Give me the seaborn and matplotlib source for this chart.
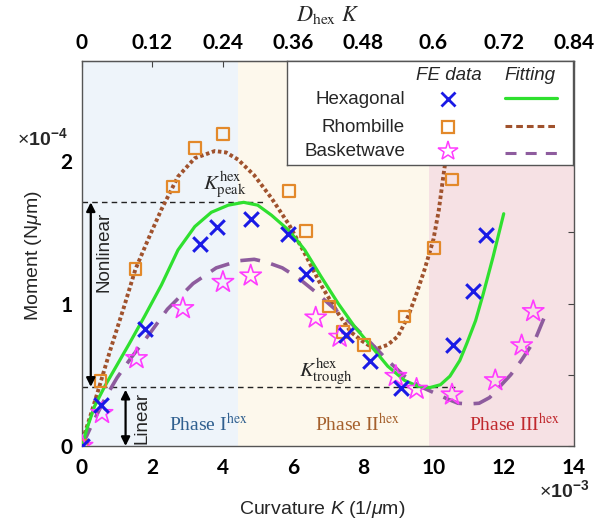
import matplotlib
matplotlib.use('Agg')
import matplotlib.pyplot as plt
import seaborn as sns
import pandas as pd

# ---------------- data (K in 1e-3 1/um, M in 1e-4 N um) ----------------
hex_K = [0, 0.55, 1.78, 3.35, 3.85, 4.82, 5.86, 6.38, 7.50, 8.19, 9.09, 10.55, 11.12, 11.50]
hex_M = [0, 0.29, 0.82, 1.42, 1.54, 1.59, 1.49, 1.21, 0.78, 0.60, 0.405, 0.71, 1.09, 1.48]
rho_K = [0, 0.53, 1.52, 2.59, 3.22, 4.01, 5.89, 6.38, 7.02, 7.43, 8.02, 9.18, 10.01, 10.53]
rho_M = [0, 0.456, 1.24, 1.82, 2.09, 2.19, 1.79, 1.51, 0.98, 0.80, 0.71, 0.91, 1.39, 1.87]
bas_K = [0, 0.57, 1.55, 2.87, 4.01, 4.80, 6.65, 7.33, 8.93, 9.52, 10.53, 11.76, 12.51, 12.84]
bas_M = [0, 0.23, 0.615, 0.966, 1.15, 1.195, 0.90, 0.765, 0.49, 0.40, 0.36, 0.46, 0.705, 0.945]

# fitted curves
hexfit_K = [0, 0.15, 0.36, 0.65, 1.0, 1.35, 1.78, 2.26, 2.73, 3.21, 3.68, 4.16, 4.6, 5.0, 5.39,
            5.9, 6.34, 6.8, 7.29, 7.75, 8.23, 8.7, 9.18, 9.55, 9.9, 10.2, 10.47, 10.75, 10.95,
            11.2, 11.42, 11.7, 12.0]
hexfit_M = [0, 0.13, 0.28, 0.42, 0.57, 0.72, 0.91, 1.13, 1.375, 1.54, 1.64, 1.69, 1.71, 1.69, 1.62,
            1.51, 1.375, 1.19, 1.0, 0.84, 0.70, 0.56, 0.46, 0.42, 0.41, 0.43, 0.49, 0.60, 0.72,
            0.88, 1.07, 1.33, 1.63]
rhofit_K = [0, 0.08, 0.25, 0.46, 0.8, 1.2, 1.52, 1.9, 2.26, 2.73, 3.21, 3.78, 4.1, 4.44, 4.9, 5.39,
            5.9, 6.34, 6.8, 7.29, 7.65, 7.95, 8.2, 8.42, 8.7, 8.99, 9.28, 9.52, 9.75, 10.0, 10.15,
            10.28, 10.4, 10.55]
rhofit_M = [0, 0.09, 0.22, 0.39, 0.67, 0.98, 1.24, 1.46, 1.66, 1.89, 2.02, 2.07, 2.06, 2.01, 1.90, 1.74,
            1.55, 1.35, 1.13, 0.93, 0.80, 0.74, 0.70, 0.685, 0.71, 0.77, 0.91, 1.07, 1.24, 1.45, 1.65,
            1.89, 2.10, 2.50]
basfit_K = [0, 0.3, 0.69, 1.0, 1.4, 1.93, 2.43, 3.16, 3.82, 4.46, 4.9, 5.25, 5.7, 6.15, 6.65, 7.29,
            7.66, 8.23, 8.7, 9.18, 9.6, 10.05, 10.4, 10.7, 11.0, 11.3, 11.6, 11.9, 12.2, 12.5, 12.9, 13.15]
basfit_M = [0, 0.16, 0.35, 0.48, 0.62, 0.79, 0.96, 1.14, 1.25, 1.30, 1.31, 1.29, 1.25, 1.18, 1.08, 0.94,
            0.86, 0.72, 0.60, 0.49, 0.42, 0.37, 0.33, 0.30, 0.295, 0.30, 0.34, 0.42, 0.50, 0.60, 0.75, 0.90]

x_ticks = [0, 2, 4, 6, 8, 10, 12, 14]
x_ticklabels = ['0', '2', '4', '6', '8', '10', '12', '14']
top_ticks = [0, 0.12, 0.24, 0.36, 0.48, 0.6, 0.72, 0.84]
top_ticklabels = ['0', '0.12', '0.24', '0.36', '0.48', '0.6', '0.72', '0.84']
y_ticks = [0, 0.5, 1, 1.5, 2, 2.5]
y_ticklabels = ['0', '', '1', '', '2', '']
D_hex = 0.06  # D_hex * 1e-3

peak_M = 1.71
trough_M = 0.415
phase_edges = [0, 4.44, 9.88, 14]

# ---------------- style ----------------
sns.set_style('white')
plt.rcParams['font.family'] = ['Liberation Sans', 'DejaVu Sans']
plt.rcParams['mathtext.fontset'] = 'custom'
plt.rcParams['mathtext.rm'] = 'Liberation Sans'
plt.rcParams['mathtext.it'] = 'Liberation Sans:italic'
plt.rcParams['mathtext.bf'] = 'Liberation Sans:bold'

C_HEX = '#1a1ae6'
C_RHO = '#e3892a'
C_BAS = '#ff3cff'
C_HEXF = '#2fe02f'
C_RHOF = '#a0522d'
C_BASF = '#8e5c9e'

W, H = 602, 525
fig = plt.figure(figsize=(W / 100, H / 100), dpi=100)
L, R, T, B = 82, 574, 61, 446
ax = fig.add_axes([L / W, 1 - B / H, (R - L) / W, (B - T) / H])

bg = ['#eef4fa', '#fdf8ec', '#f6e1e4']
for i in range(3):
    ax.axvspan(phase_edges[i], phase_edges[i + 1], color=bg[i], lw=0, zorder=0)

# fitting curves
sns.lineplot(x=rhofit_K, y=rhofit_M, ax=ax, color=C_RHOF, lw=2.8, sort=False, estimator=None,
             linestyle=(0, (0.9, 0.7)), zorder=3)
sns.lineplot(x=basfit_K, y=basfit_M, ax=ax, color=C_BASF, lw=2.6, sort=False, estimator=None,
             linestyle=(0, (5.5, 3.2)), zorder=3)
sns.lineplot(x=hexfit_K, y=hexfit_M, ax=ax, color=C_HEXF, lw=2.3, sort=False, estimator=None, zorder=4)

# FE data
sns.scatterplot(x=rho_K, y=rho_M, ax=ax, marker='s', s=70, facecolor='none', edgecolor=C_RHO,
                linewidth=1.6, zorder=5)
sns.scatterplot(x=bas_K, y=bas_M, ax=ax, marker='*', s=260, facecolor='none', edgecolor=C_BAS,
                linewidth=1.2, zorder=5)
sns.scatterplot(x=hex_K, y=hex_M, ax=ax, marker='x', s=110, color=C_HEX, linewidth=2.2, zorder=6)

# reference lines
ax.plot([0, 5.2], [peak_M, peak_M], color='#222222', lw=1.0, dashes=(4, 3), zorder=2)
ax.plot([0, 10.6], [trough_M, trough_M], color='#222222', lw=1.0, dashes=(4, 3), zorder=2)

arrow_kw = dict(arrowstyle='<|-|>', color='black', lw=1.6, mutation_scale=13, shrinkA=0, shrinkB=0)
ax.annotate('', xy=(0.25, peak_M), xytext=(0.25, trough_M), arrowprops=arrow_kw, zorder=7)
ax.annotate('', xy=(1.24, trough_M - 0.02), xytext=(1.24, 0), arrowprops=arrow_kw, zorder=7)
ax.text(0.62, 1.36, 'Nonlinear', rotation=90, ha='center', va='center', fontsize=13.5)
ax.text(1.70, 0.20, 'Linear', rotation=90, ha='center', va='center', fontsize=13.5)

ax.text(4.07, 1.83, r'$K^{\mathrm{hex}}_{\mathrm{peak}}$', math_fontfamily='stix', fontsize=15,
        ha='center', va='center', zorder=8)
ax.text(6.94, 0.52, r'$K^{\mathrm{hex}}_{\mathrm{trough}}$', math_fontfamily='stix', fontsize=15,
        ha='center', va='center', zorder=8)

ph_kw = dict(fontfamily='Liberation Serif', math_fontfamily='stix', fontsize=14, ha='center', va='center')
ax.text(3.6, 0.15, r'Phase I$^{\mathrm{hex}}$', color='#2f5f8f', **ph_kw)
ax.text(7.83, 0.15, r'Phase II$^{\mathrm{hex}}$', color='#a5602c', **ph_kw)
ax.text(12.3, 0.15, r'Phase III$^{\mathrm{hex}}$', color='#c0282d', **ph_kw)

ax.set_xlim(0, 14)
ax.set_ylim(0, (B - T) / 142.5)
ax.set_xticks(x_ticks)
ax.set_xticklabels(x_ticklabels)
ax.set_yticks(y_ticks)
ax.set_yticklabels(y_ticklabels)
ax.tick_params(direction='in', length=4, width=0.8, right=True, top=False, colors='#444444',
               labelcolor='black')
ax.tick_params(axis='x', pad=9)
ax.tick_params(axis='y', pad=7)
for lab in ax.get_xticklabels() + ax.get_yticklabels():
    lab.set_fontfamily('Lato')
    lab.set_fontweight('bold')
    lab.set_fontsize(15)
for sp in ax.spines.values():
    sp.set_color('#555555')
    sp.set_linewidth(1.0)
ax.set_xlabel('')
ax.set_ylabel('')

sec = ax.secondary_xaxis('top', functions=(lambda x: x * D_hex, lambda x: x / D_hex))
sec.set_xticks(top_ticks)
sec.set_xticklabels(top_ticklabels)
sec.tick_params(direction='in', length=4, width=0.8, pad=6, colors='#444444', labelcolor='black')
for lab in sec.get_xticklabels():
    lab.set_fontfamily('Lato')
    lab.set_fontweight('bold')
    lab.set_fontsize(15)
sec.spines['top'].set_color('#555555')

# axis titles
fig.text(322 / W, 1 - 510 / H, r'Curvature $K$ (1/$\mu$m)', ha='center', va='center', fontsize=14)
fig.text(33 / W, 1 - 256 / H, r'Moment (N$\mu$m)', rotation=90, ha='center', va='center', fontsize=14)
fig.text(328 / W, 1 - 15 / H, r'$D_{\mathrm{hex}}\ K$', math_fontfamily='stix', fontsize=16,
         ha='center', va='center')
fig.text(42 / W, 1 - 138 / H, r'$\times\mathbf{10^{-4}}$', ha='center', va='center', fontsize=14)
fig.text(564 / W, 1 - 490 / H, r'$\times\mathbf{10^{-3}}$', ha='center', va='center', fontsize=14)

# ---------------- legend box ----------------
LX0, LX1, LY0, LY1 = 287, 573, 61, 165
lg = fig.add_axes([LX0 / W, 1 - LY1 / H, (LX1 - LX0) / W, (LY1 - LY0) / H])
lg.set_xlim(LX0, LX1)
lg.set_ylim(LY1, LY0)
lg.set_xticks([])
lg.set_yticks([])
lg.set_facecolor('white')
for sp in lg.spines.values():
    sp.set_color('#555555')
    sp.set_linewidth(1.0)
lg.text(449, 76, 'FE data', style='italic', fontsize=13.5, ha='center', va='center')
lg.text(530, 76, 'Fitting', style='italic', fontsize=13.5, ha='center', va='center')
names = ['Hexagonal', 'Rhombille', 'Basketwave']
rows = [99, 127, 151]
for n, yy in zip(names, rows):
    lg.text(405, yy, n, fontsize=13.5, ha='right', va='center')
lg.plot([448], [rows[0]], marker='x', ms=10, mew=2.0, color=C_HEX, ls='none')
lg.plot([448], [rows[1]], marker='s', ms=8, mew=1.6, mfc='none', mec=C_RHO, ls='none')
lg.plot([448], [rows[2]], marker='*', ms=15, mew=1.1, mfc='none', mec=C_BAS, ls='none')
lg.plot([505, 557], [98, 98], color=C_HEXF, lw=2.3)
lg.plot([505, 556], [126, 126], color=C_RHOF, lw=2.2, dashes=(2.2, 1.3))
lg.plot([505, 557], [153, 153], color=C_BASF, lw=2.2, dashes=(3.6, 3.0))

fig.savefig('out.png', dpi=100)
